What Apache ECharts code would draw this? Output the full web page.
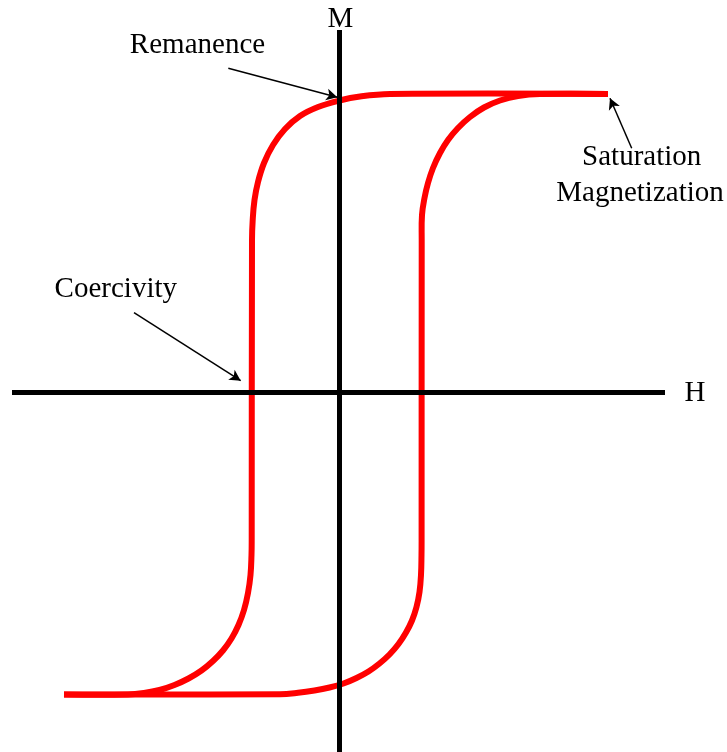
<!DOCTYPE html>
<html>
<head>
<meta charset="utf-8">
<script src="https://cdn.jsdelivr.net/npm/echarts@6/dist/echarts.min.js"></script>
<style>
    html, body { margin: 0; padding: 0; background: #fff; }
    #chart { width: 727px; height: 752px; }
</style>
</head>
<body>
<div id="chart"></div>
<script>
// hysteresis loop (H, M in arbitrary units)
// descending branch: from +saturation (right) down to -saturation (left)
var descH = [2.685, 0.505, 0.205, 0.0, -0.215, -0.395, -0.545, -0.665, -0.755, -0.815, -0.85, -0.868, -0.875,
    -0.878, -0.88, -0.89, -0.915, -0.955, -1.01, -1.08, -1.165, -1.265, -1.38, -1.51, -1.65, -1.8, -1.955, -2.115, -2.755];
var descM = [2.985, 2.985, 2.96, 2.92, 2.855, 2.765, 2.635, 2.475, 2.295, 2.105, 1.925, 1.725, 1.525,
    -1.475, -1.625, -1.825, -2.005, -2.175, -2.325, -2.46, -2.58, -2.685, -2.78, -2.86, -2.925, -2.975, -3.005, -3.02, -3.02];

// ascending branch: from -saturation (left) up to +saturation (right)
var ascH = [-2.755, -0.595, -0.415, -0.25, -0.1, 0.04, 0.17, 0.29, 0.4, 0.5, 0.59, 0.665, 0.725, 0.77, 0.8, 0.815, 0.82, 0.821,
    0.822, 0.825, 0.85, 0.885, 0.935, 1.005, 1.085, 1.185, 1.305, 1.445, 1.605, 1.785, 2.005, 2.685];
var ascM = [-3.02, -3.017, -3.003, -2.98, -2.95, -2.91, -2.855, -2.79, -2.71, -2.62, -2.515, -2.4, -2.28, -2.145, -1.995, -1.825, -1.625, -1.475,
    1.525, 1.775, 1.945, 2.095, 2.245, 2.395, 2.525, 2.645, 2.755, 2.85, 2.92, 2.965, 2.985, 2.985];

// axis lines
var hAxisExtent = [-3.275, 3.255];
var mAxisExtent = [3.625, -3.6];

// annotation arrows: [tailH, tailM, tipH, tipM]
var arrowLines = [
    [-1.112, 3.242, -0.022, 2.952],
    [2.922, 2.442, 2.705, 2.942],
    [-2.055, 0.798, -0.988, 0.118]
];

// text labels: [H, M]
var labelTexts = ['M', 'H', 'Remanence', 'Saturation', 'Magnetization', 'Coercivity'];
var labelPos = [
    [0.01, 3.728],
    [3.555, -0.01],
    [-1.42, 3.475],
    [3.022, 2.355],
    [3.005, 1.992],
    [-2.237, 1.035]
];

function zip(xs, ys) {
    var out = [];
    for (var i = 0; i < xs.length; i++) {
        out.push([xs[i], ys[i]]);
    }
    return out;
}

// one smooth path through all points of a branch
function branchSeries(name, points) {
    return {
        name: name,
        type: 'custom',
        silent: true,
        encode: {x: 0, y: 1},
        data: points,
        renderItem: function (params, api) {
            if (params.dataIndex !== 0) {
                return null;
            }
            var pts = points.map(function (p) {
                return api.coord(p);
            });
            return {
                type: 'polyline',
                shape: {points: pts, smooth: 0.4},
                style: {stroke: '#ff0000', lineWidth: 6, fill: null, lineJoin: 'round'}
            };
        }
    };
}

var chart = echarts.init(document.getElementById('chart'));

var textStyle = {
    fontFamily: '"Liberation Serif", "Times New Roman", serif',
    fontSize: 29,
    color: '#000'
};

var option = {
    animation: false,
    backgroundColor: '#fff',
    grid: {left: 0, right: 0, top: 0, bottom: 0},
    xAxis: {type: 'value', min: -3.395, max: 3.875, show: false},
    yAxis: {type: 'value', min: -3.595, max: 3.925, show: false},
    series: [
        {
            name: 'hAxis',
            type: 'line',
            symbol: 'none',
            silent: true,
            lineStyle: {color: '#000', width: 5},
            data: [[hAxisExtent[0], 0], [hAxisExtent[1], 0]],
            markLine: {
                silent: true,
                symbol: ['none', 'arrow'],
                symbolSize: [9, 11],
                label: {show: false},
                lineStyle: {color: '#000', width: 1.5, type: 'solid'},
                data: arrowLines.map(function (a) {
                    return [{coord: [a[0], a[1]]}, {coord: [a[2], a[3]]}];
                })
            },
            markPoint: {
                silent: true,
                symbol: 'circle',
                symbolSize: 0,
                itemStyle: {color: 'transparent'},
                label: Object.assign({show: true, position: 'inside', formatter: '{b}'}, textStyle),
                data: labelTexts.map(function (t, i) {
                    return {name: t, coord: labelPos[i]};
                })
            }
        },
        branchSeries('descending', zip(descH, descM)),
        branchSeries('ascending', zip(ascH, ascM)),
        {
            name: 'mAxis',
            type: 'line',
            symbol: 'none',
            silent: true,
            z: 3,
            lineStyle: {color: '#000', width: 5},
            data: [[0, mAxisExtent[0]], [0, mAxisExtent[1]]]
        }
    ]
};

chart.setOption(option);
</script>
</body>
</html>
